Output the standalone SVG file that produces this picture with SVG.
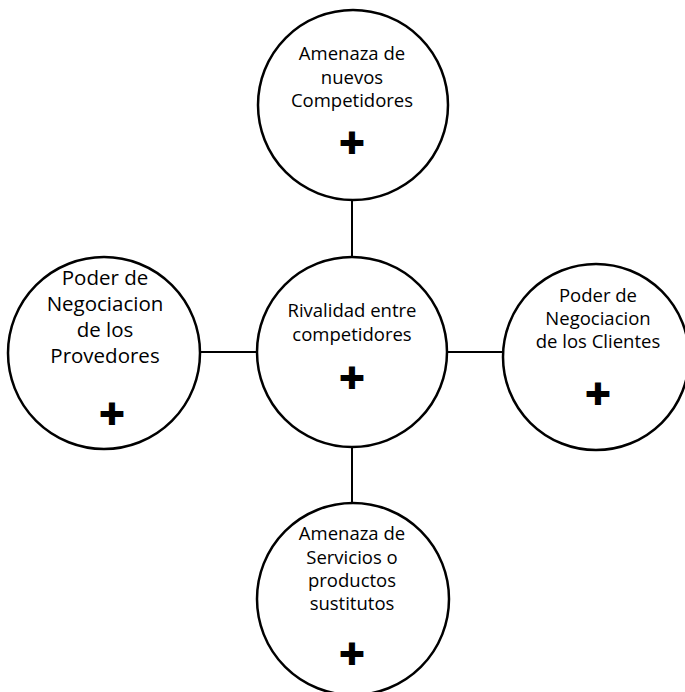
<svg xmlns="http://www.w3.org/2000/svg" width="685" height="692" viewBox="0 0 685 692">
<style>
.c{fill:#fff;stroke:#000;stroke-width:2.5}
.t{font-family:"Open Sans","Noto Sans",sans-serif;font-size:18.5px;fill:#000;text-anchor:middle}
.tl{font-size:20.5px}
.p{font-family:"Open Sans","Noto Sans",sans-serif;font-weight:800;font-size:46px;fill:#000;text-anchor:middle}
.ln{stroke:#000;stroke-width:2}
</style>
<rect width="685" height="692" fill="#fff"/>
<g id="connectors">
<line class="ln" x1="352" y1="200" x2="352" y2="257"/>
<line class="ln" x1="352" y1="447" x2="352" y2="503"/>
<line class="ln" x1="200" y1="352" x2="257" y2="352"/>
<line class="ln" x1="447" y1="352" x2="503" y2="352"/>
</g>
<g id="top">
<circle class="c" cx="353" cy="105" r="95"/>
<text class="t" x="352" y="60">Amenaza de</text>
<text class="t" x="352" y="84">nuevos</text>
<text class="t" x="352" y="107">Competidores</text>
<text class="p" x="352" y="159">+</text>
</g>
<g id="center">
<circle class="c" cx="352" cy="352" r="95"/>
<text class="t" x="352" y="317">Rivalidad entre</text>
<text class="t" x="352" y="341">competidores</text>
<text class="p" x="352" y="394">+</text>
</g>
<g id="left">
<circle class="c" cx="104" cy="353" r="96"/>
<text class="t tl" x="105" y="285">Poder de</text>
<text class="t tl" x="105" y="311">Negociacion</text>
<text class="t tl" x="105" y="337">de los</text>
<text class="t tl" x="105" y="363">Provedores</text>
<text class="p" x="112" y="430">+</text>
</g>
<g id="right">
<circle class="c" cx="596" cy="357" r="93"/>
<text class="t" x="598" y="302">Poder de</text>
<text class="t" x="598" y="325">Negociacion</text>
<text class="t" x="598" y="348">de los Clientes</text>
<text class="p" x="598" y="410">+</text>
</g>
<g id="bottom">
<circle class="c" cx="353" cy="599" r="96"/>
<text class="t" x="352" y="540">Amenaza de</text>
<text class="t" x="352" y="564">Servicios o</text>
<text class="t" x="352" y="587">productos</text>
<text class="t" x="352" y="610">sustitutos</text>
<text class="p" x="352" y="670">+</text>
</g>
</svg>
